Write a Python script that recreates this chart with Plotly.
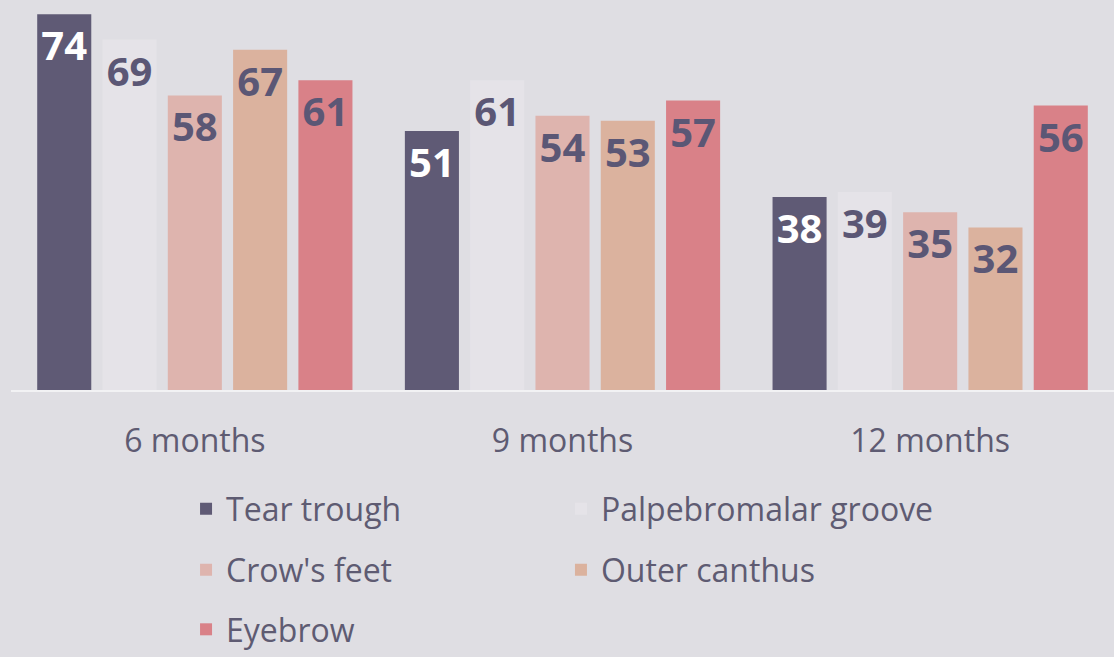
import plotly.graph_objects as go

categories = ["6 months", "9 months", "12 months"]
series_names = ["Tear trough", "Palpebromalar groove", "Crow's feet", "Outer canthus", "Eyebrow"]
tear_trough = [74, 51, 38]
palpebromalar_groove = [69, 61, 39]
crows_feet = [58, 54, 35]
outer_canthus = [67, 53, 32]
eyebrow = [61, 57, 56]

values = [tear_trough, palpebromalar_groove, crows_feet, outer_canthus, eyebrow]
colors = ["#5F5A75", "#E5E3E8", "#DEB4AE", "#DBB29E", "#D98188"]
label_colors = ["#FFFFFF", "#5B5775", "#5B5775", "#5B5775", "#5B5775"]
legend_ids = ["legend", "legend2", "legend3", "legend4", "legend5"]
# legend grid placement (column, row) in paper coordinates
legend_x = [0.1587, 0.4986, 0.1587, 0.4986, 0.1587]
legend_y = [-0.305, -0.305, -0.4625, -0.4625, -0.620]

fig = go.Figure()
for name, vals, c, lc, lg in zip(series_names, values, colors, label_colors, legend_ids):
    fig.add_trace(go.Bar(
        name=name, x=categories, y=vals, legend=lg,
        marker=dict(color=c, line=dict(width=0)),
        text=[str(v) for v in vals],
        textposition="inside", insidetextanchor="end",
        textangle=0,
        textfont=dict(family="Open Sans", size=40, color=lc, weight="bold"),
        constraintext="none",
    ))

legend_layouts = {}
for lg, lx, ly in zip(legend_ids, legend_x, legend_y):
    legend_layouts[lg] = dict(orientation="h", x=lx, y=ly, xanchor="left", yanchor="middle",
                              font=dict(size=32, color="#5E5B72"),
                              bgcolor="rgba(0,0,0,0)")

fig.update_layout(
    width=1114, height=657,
    paper_bgcolor="#DFDEE3", plot_bgcolor="#DFDEE3",
    margin=dict(l=11, r=0, t=4, b=266),
    barmode="group", bargap=0.112, bargroupgap=0.172,
    font=dict(family="Open Sans", color="#5E5B72"),
    xaxis=dict(showline=True, linecolor="#F2F2F4", linewidth=2,
               ticks="", tickfont=dict(size=32, color="#5E5B72"),
               ticklabelstandoff=22, showgrid=False),
    yaxis=dict(range=[0, 76], visible=False, showgrid=False),
    showlegend=True,
    **legend_layouts,
)

fig.write_html("out.html", config={"displayModeBar": False},
               post_script="document.body.style.margin='0';")
